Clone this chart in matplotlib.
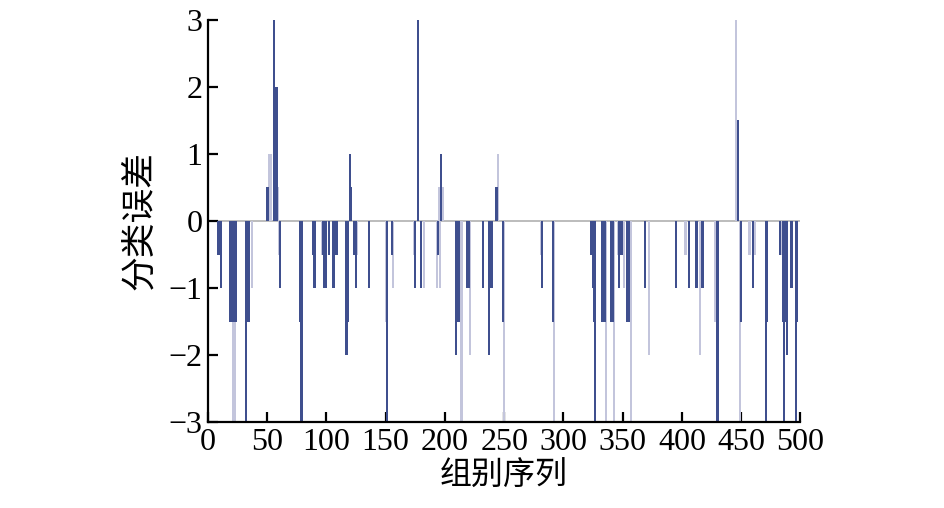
import matplotlib
matplotlib.use('Agg')
import matplotlib.pyplot as plt

# 深色误差柱 (组别序号, 分类误差)
dark_idx = [9, 10, 11, 19, 20, 21, 22, 23, 24, 32, 34, 35, 50, 51, 56, 57, 58, 61,
            78, 79, 89, 90, 97, 98, 100, 102, 106, 108, 109, 117, 118, 120, 121, 123, 125,
            136, 151, 155, 175, 177, 180, 194, 197, 209, 210, 211, 212, 219, 220, 232,
            237, 239, 240, 243, 244, 249, 282, 291, 323, 325, 326, 327, 333, 334, 335,
            340, 341, 342, 347, 349, 354, 355, 369, 395, 406, 412, 413, 417, 418, 430,
            447, 450, 460, 471, 472, 483, 485, 486, 487, 489, 492, 493, 496, 497]
dark_val = [-0.5, -0.5, -1, -1.5, -1.5, -1.5, -1.5, -1.5, -1.5, -3, -1.5, -1.5, 0.5, 0.5, 3, 2, 2, -1,
            -1.5, -3, -0.5, -1, -0.5, -1, -1, -0.5, -1, -0.5, -0.5, -2, -1.5, 1, 0.5, -0.5, -1,
            -1, -3, -0.5, -1, 3, -1, -0.5, 1, -2, -1.5, -1.5, -1.5, -1, -1, -1,
            -2, -1, -1, 0.5, 0.5, -1.5, -1, -1.5, -0.5, -1, -1.5, -3, -1.5, -1.5, -1.5,
            -1.5, -1.5, -1.5, -1, -0.5, -1.5, -1.5, -1, -1, -1, -1, -1, -1, -1, -3,
            1.5, -1.5, -1, -3, -1.5, -0.5, -1.5, -3, -1.5, -2, -1, -1, -3, -1.5]

# 浅色误差柱
light_idx = [21, 22, 23, 37, 52, 53, 59, 60, 96, 126, 150, 156, 174, 182, 193, 195, 196, 198,
             214, 221, 245, 250, 281, 292, 336, 343, 346, 351, 357, 372, 403, 415, 428,
             446, 449, 457, 462, 484]
light_val = [-3, -3, -3, -1, 1, 1, 0.5, -0.5, -0.5, -0.5, -1.5, -1, -0.5, -1, -1, 0.5, -1, 0.5,
             -3, -2, 1, -3, -0.5, -3, -3, -3, -0.5, -1, -3, -2, -0.5, -2, -1.5,
             3, -3, -0.5, -0.5, -0.5]

plt.rcParams['font.family'] = ['Liberation Serif', 'Noto Sans CJK SC']
plt.rcParams['axes.unicode_minus'] = True

fig = plt.figure(figsize=(9.45, 5.08), dpi=100)
ax = fig.add_axes([0.220, 0.169, 0.627, 0.792])

ax.axhline(0, color='#b0b0b0', linewidth=1.2, zorder=1)
ax.bar(light_idx, light_val, width=1.8, color='#c3c5dc', linewidth=0, zorder=2)
ax.bar(dark_idx, dark_val, width=1.8, color='#3f4f8e', linewidth=0, zorder=3)

ax.set_xlim(0, 500)
ax.set_ylim(-3, 3)
ax.set_xticks(range(0, 501, 50))
ax.set_yticks(range(-3, 4))

for s in ['top', 'right']:
    ax.spines[s].set_visible(False)
for s in ['left', 'bottom']:
    ax.spines[s].set_linewidth(1.6)
    ax.spines[s].set_zorder(5)

ax.tick_params(direction='in', length=7, width=1.6, labelsize=23, pad=4)

ax.set_xlabel('组别序列', fontsize=23, family=['Noto Sans CJK SC'], labelpad=2)
ax.set_ylabel('分类误差', fontsize=25, family=['Noto Sans CJK SC'], labelpad=8)

fig.savefig('out.png', dpi=100)
